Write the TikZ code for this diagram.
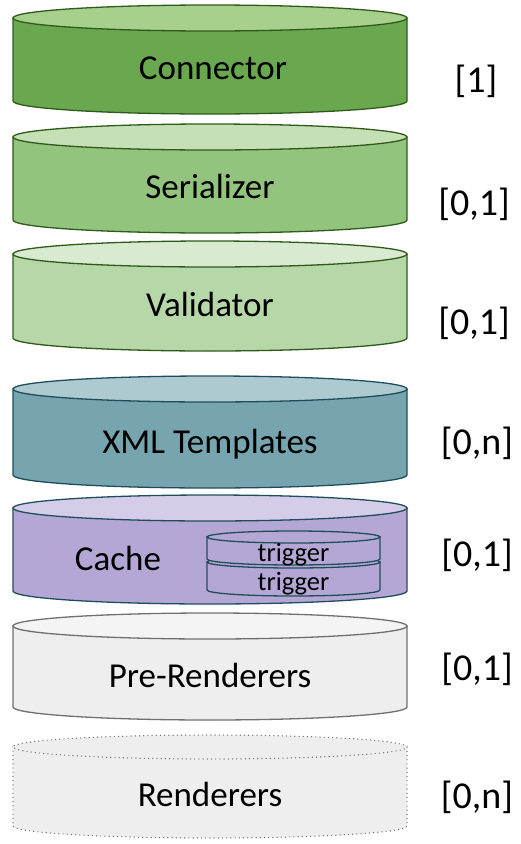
\documentclass[tikz,border=0pt]{standalone}
\usepackage{fontspec}
\setmainfont{Carlito}
\definecolor{conbody}{HTML}{6AA84F}
\definecolor{contop}{HTML}{A8D08D}
\definecolor{conline}{HTML}{2F5A1B}
\definecolor{serbody}{HTML}{93C47D}
\definecolor{sertop}{HTML}{C5E0B4}
\definecolor{valbody}{HTML}{B6D7A8}
\definecolor{valtop}{HTML}{D8EBD0}
\definecolor{xmlbody}{HTML}{76A5AF}
\definecolor{xmltop}{HTML}{ADCAD0}
\definecolor{tealline}{HTML}{1F4E5A}
\definecolor{cachebody}{HTML}{B4A7D6}
\definecolor{cachetop}{HTML}{D5CCE9}
\definecolor{greybody}{HTML}{EEEEEE}
\definecolor{greytop}{HTML}{F4F4F4}
\definecolor{greyline}{HTML}{707070}
\newcommand\drawcylt[8]{%
  \draw[#8, fill=#5] ({#1-#2},{-#3}) -- ({#1-#2},{-#4})
    arc[start angle=180, end angle=360, x radius=#2pt, y radius=#7pt]
    -- ({#1+#2},{-#3}) -- cycle;
  \draw[#8, fill=#6] (#1,{-#3}) ellipse[x radius=#2pt, y radius=#7pt];
}
\begin{document}
\begin{tikzpicture}[x=1pt, y=1pt,
  cname/.style={anchor=base, inner sep=0pt, font=\fontsize{35}{40}\selectfont},
  card/.style={anchor=base, inner sep=0pt, font=\fontsize{38}{44}\selectfont},
  trig/.style={anchor=base, inner sep=0pt, font=\fontsize{26.5}{30}\selectfont},
  solidline/.style={draw=#1, line width=1.3pt},
  dotline/.style={draw=#1, line width=1.4pt, line cap=round, dash pattern=on 0pt off 4.2pt}]
\useasboundingbox (0,0) rectangle (520,-844);
% cylinders
\drawcylt{210}{197}{18}{101}{conbody}{contop}{13}{solidline=conline}
\drawcylt{210}{197}{137}{220}{serbody}{sertop}{13}{solidline=conline}
\drawcylt{210}{197}{254}{338}{valbody}{valtop}{13}{solidline=conline}
\drawcylt{210}{197}{389}{475}{xmlbody}{xmltop}{13}{solidline=tealline}
\drawcylt{210}{197}{508}{591}{cachebody}{cachetop}{13}{solidline=tealline}
\drawcylt{293.5}{86.5}{562}{590}{cachebody}{cachebody}{6}{solidline=tealline}
\drawcylt{293.5}{86.5}{537}{559}{cachebody}{cachebody}{6}{solidline=tealline}
\drawcylt{210}{197}{626}{707}{greybody}{greytop}{13}{solidline=greyline}
\drawcylt{210}{197}{747}{826}{greybody}{greybody}{12}{dotline=greyline}
% names
\node[cname] (connector) at (213,-79) {Connector};
\node[cname] (serializer) at (210,-198) {Serializer};
\node[cname] (validator) at (210,-316) {Validator};
\node[cname] (xml) at (210,-453) {XML Templates};
\node[cname] (cache) at (118,-570) {Cache};
\node[trig] (trigA) at (293.5,-561) {trigger};
\node[trig] (trigB) at (293.5,-590) {trigger};
\node[cname] (pre) at (210,-687) {Pre-Renderers};
\node[cname] (rend) at (210,-806) {Renderers};
% cardinalities
\node[card] (c1) at (476,-92) {[1]};
\node[card] (c2) at (474,-215) {[0,1]};
\node[card] (c3) at (474,-334) {[0,1]};
\node[card] (c4) at (477,-454) {[0,n]};
\node[card] (c5) at (477,-566) {[0,1]};
\node[card] (c6) at (477,-680) {[0,1]};
\node[card] (c7) at (477,-808) {[0,n]};
\end{tikzpicture}
\end{document}
